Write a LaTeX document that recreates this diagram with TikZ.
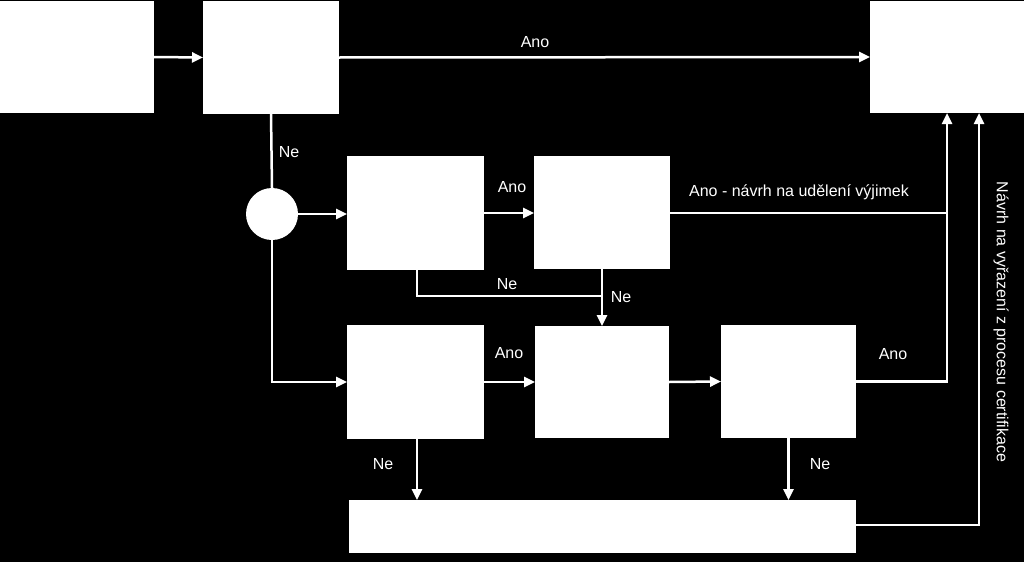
\documentclass[tikz,border=0pt]{standalone}
\usepackage{fontspec}
\setmainfont{Liberation Sans}
\usetikzlibrary{arrows.meta}
\tikzset{
  box/.style={rectangle, fill=white, draw=none, inner sep=0pt, outer sep=0pt},
  conn/.style={draw=white, line width=2.5pt},
  arr/.style={conn, -{Triangle[length=11pt,width=10pt]}},
  lbl/.style={text=white, inner sep=0pt, font=\fontsize{16}{19}\selectfont}
}
\begin{document}
\begin{tikzpicture}[x=1pt,y=1pt]
\fill[black] (0,0) rectangle (1024,-562);
\useasboundingbox (0,0) rectangle (1024,-562);
% boxes
\node[box, minimum width=154pt, minimum height=112pt] (A) at (77,-57) {};
\node[box, minimum width=136pt, minimum height=113pt] (B) at (271,-57.5) {};
\node[box, minimum width=154pt, minimum height=112pt] (T) at (947,-57) {};
\node[circle, fill=white, inner sep=0pt, minimum size=52pt] (O) at (272,-214) {};
\node[box, minimum width=137pt, minimum height=114pt] (C) at (415.5,-213) {};
\node[box, minimum width=136pt, minimum height=113pt] (D) at (602,-212.5) {};
\node[box, minimum width=137pt, minimum height=114pt] (E) at (415.5,-382) {};
\node[box, minimum width=134pt, minimum height=112pt] (F) at (602,-382) {};
\node[box, minimum width=135pt, minimum height=113pt] (G) at (788.5,-381.5) {};
\node[box, minimum width=507pt, minimum height=53pt] (H) at (602.5,-526.5) {};
% helper coordinates
\coordinate (j1) at (947,-213);
\coordinate (j2) at (979,-525);
\coordinate (k) at (602,-296);
\coordinate (cs) at (417,-270);
\coordinate (es) at (417,-439);
% connectors
\draw[arr] (A.east) -- (B.west);
\draw[arr] (B.east) -- (T.west);
\draw[conn] (B.south) -- (O.north);
\draw[arr] (O.east) -- (O.east -| C.west);
\draw[arr] (C.east) -- (C.east -| D.west);
\draw[arr] (D.east |- j1) -- (j1) -- (j1 |- T.south);
\draw[conn] (cs) |- (k);
\draw[arr] (D.south) -- (F.north);
\draw[arr] (O.south) |- (E.west);
\draw[arr] (E.east) -- (F.west);
\draw[arr] (F.east) -- (G.west);
\draw[conn] (G.east) -| (j1);
\draw[arr] (es) -- (es |- H.north);
\draw[arr] (G.south) -- (G.south |- H.north);
\draw[arr] (H.east |- j2) -- (j2) -- (j2 |- T.south);
% labels
\node[lbl] (l1) at (535,-42) {Ano};
\node[lbl] (l2) at (289,-152) {Ne};
\node[lbl] (l3) at (512,-187) {Ano};
\node[lbl] (l4) at (799,-192) {Ano - návrh na udělení výjimek};
\node[lbl] (l5) at (507,-284) {Ne};
\node[lbl] (l6) at (621,-297) {Ne};
\node[lbl] (l7) at (509,-353) {Ano};
\node[lbl] (l8) at (893,-354) {Ano};
\node[lbl] (l9) at (383,-464) {Ne};
\node[lbl] (l10) at (820,-464) {Ne};
\node[lbl, rotate=-90] (l11) at (1001,-322) {Návrh na vyřazení z procesu certifikace};
\end{tikzpicture}
\end{document}
